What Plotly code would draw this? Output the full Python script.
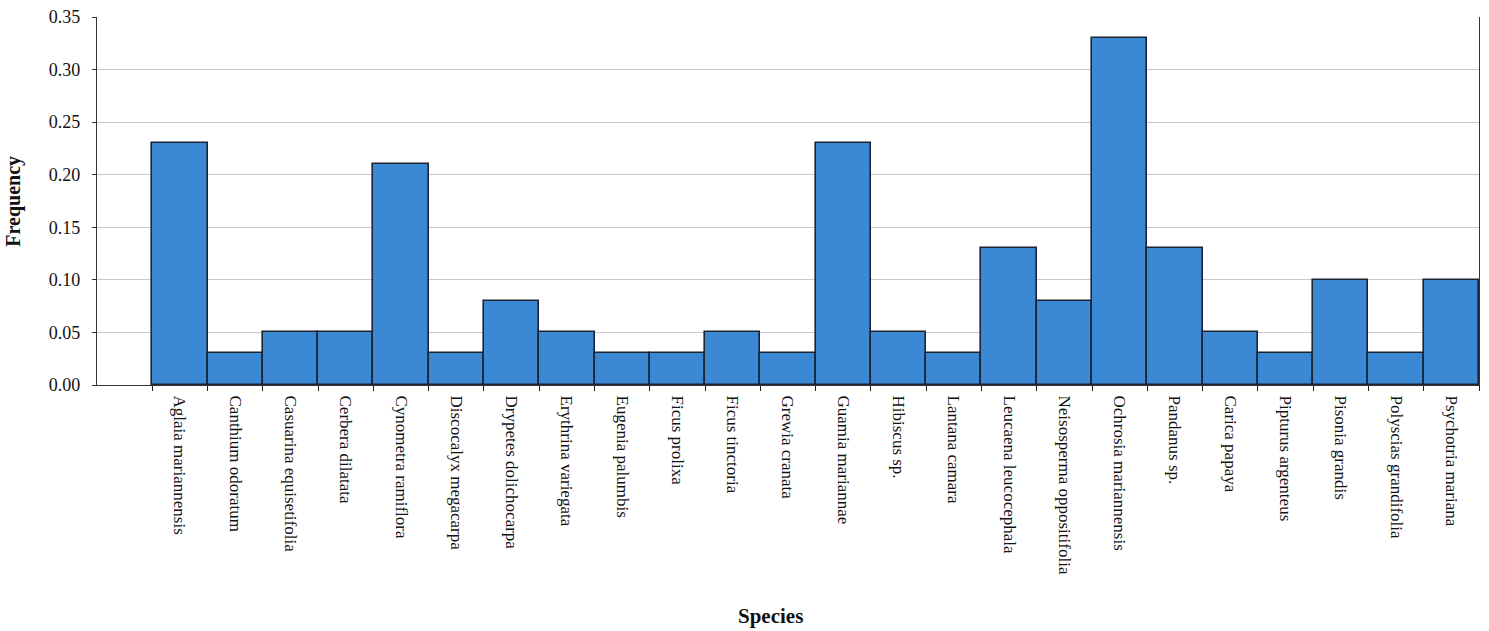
import plotly.graph_objects as go

species = [
    "Aglaia mariannensis", "Canthium odoratum", "Casuarina equisetifolia",
    "Cerbera dilatata", "Cynometra ramiflora", "Discocalyx megacarpa",
    "Drypetes dolichocarpa", "Erythrina variegata", "Eugenia palumbis",
    "Ficus prolixa", "Ficus tinctoria", "Grewia cranata", "Guamia mariannae",
    "Hibiscus sp.", "Lantana camara", "Leucaena leucocephala",
    "Neisosperma oppositifolia", "Ochrosia mariannensis", "Pandanus sp.",
    "Carica papaya", "Pipturus argenteus", "Pisonia grandis",
    "Polyscias grandifolia", "Psychotria mariana",
]
frequency = [
    0.23, 0.03, 0.05, 0.05, 0.21, 0.03, 0.08, 0.05, 0.03, 0.03, 0.05, 0.03,
    0.23, 0.05, 0.03, 0.13, 0.08, 0.33, 0.13, 0.05, 0.03, 0.10, 0.03, 0.10,
]
y_ticks = [0.00, 0.05, 0.10, 0.15, 0.20, 0.25, 0.30, 0.35]

serif = "Liberation Serif, Times New Roman, serif"

fig = go.Figure(
    go.Bar(
        x=species,
        y=frequency,
        marker=dict(color="#3b88d4", line=dict(color="#1b2433", width=1.6)),
        hoverinfo="x+y",
    )
)

fig.update_layout(
    width=1489,
    height=631,
    margin=dict(l=97, r=10, t=17, b=246),
    paper_bgcolor="white",
    plot_bgcolor="white",
    bargap=0,
    showlegend=False,
    font=dict(family=serif, color="#111111"),
    annotations=[
        dict(text="<b>Species</b>", xref="paper", yref="paper",
             x=0.487, y=-0.666, xanchor="center", showarrow=False,
             font=dict(family=serif, size=21, color="#111111")),
        dict(text="<b>Frequency</b>", xref="paper", yref="paper",
             x=-0.061, y=0.5, xanchor="center", yanchor="middle",
             textangle=-90, showarrow=False,
             font=dict(family=serif, size=20, color="#111111")),
    ],
)

fig.update_xaxes(
    type="category",
    range=[-1.5, len(species) - 0.5],
    tickson="boundaries",
    ticks="outside",
    ticklen=5,
    tickcolor="#222222",
    tickangle=90,
    ticklabelstandoff=6,
    tickfont=dict(family=serif, size=17, color="#111111"),
    showline=True,
    linecolor="#333333",
    linewidth=1.2,
    showgrid=False,
    mirror=False,
    automargin=False,
)

fig.update_yaxes(
    range=[0, 0.35],
    tickvals=y_ticks,
    ticktext=[f"{v:.2f}" for v in y_ticks],
    ticks="outside",
    ticklen=4,
    tickcolor="#333333",
    ticklabelstandoff=8,
    tickfont=dict(family=serif, size=18, color="#111111"),
    showline=True,
    linecolor="#333333",
    linewidth=1.2,
    mirror=True,
    showgrid=True,
    gridcolor="#c8c8c8",
    gridwidth=1,
    zeroline=False,
    automargin=False,
)

fig.write_html("out.html")
